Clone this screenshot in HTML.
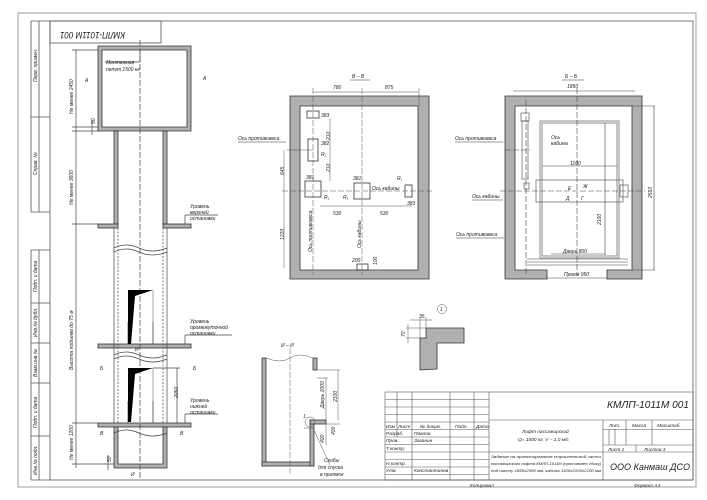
<!DOCTYPE html>
<html><head><meta charset="utf-8"><style>
html,body{margin:0;padding:0;background:#fff;}
svg{display:block;font-family:"Liberation Sans","DejaVu Sans",sans-serif;font-style:italic;}
text{fill:#222;}
</style></head><body>
<svg width="707" height="500" viewBox="0 0 707 500" xmlns="http://www.w3.org/2000/svg">
<g fill="none" stroke="#888" stroke-width="0.8">
<rect x="18" y="13" width="678" height="474"/>
</g>
<g fill="none" stroke="#555" stroke-width="0.8">
<rect x="50" y="21" width="643" height="459"/>
<rect x="50" y="21" width="111" height="22"/>
<line x1="31" y1="21" x2="50" y2="21"/><line x1="31" y1="21" x2="31" y2="212"/>
<line x1="39" y1="21" x2="39" y2="212"/><line x1="31" y1="117" x2="50" y2="117"/><line x1="31" y1="212" x2="50" y2="212"/>
<line x1="31" y1="250" x2="31" y2="480"/><line x1="39" y1="250" x2="39" y2="480"/>
<line x1="31" y1="250" x2="50" y2="250"/><line x1="31" y1="303" x2="50" y2="303"/><line x1="31" y1="343" x2="50" y2="343"/><line x1="31" y1="383" x2="50" y2="383"/><line x1="31" y1="436" x2="50" y2="436"/><line x1="31" y1="480" x2="50" y2="480"/>
</g>
<g font-size="5" fill="#333">
<text transform="translate(37,82) rotate(-90)">Перв. примен.</text>
<text transform="translate(37,175) rotate(-90)">Справ. №</text>
<text transform="translate(37,292) rotate(-90)">Подп. и дата</text>
<text transform="translate(37,337) rotate(-90)">Инв.№ дубл.</text>
<text transform="translate(37,377) rotate(-90)">Взам.инв.№</text>
<text transform="translate(37,428) rotate(-90)">Подп. и дата</text>
<text transform="translate(37,475) rotate(-90)">Инв.№ подл.</text>
</g>
<text transform="translate(125,32) rotate(180)" font-size="9" textLength="65" lengthAdjust="spacingAndGlyphs">КМЛП-1011М 001</text>

<!-- LEFT SHAFT -->
<g fill="#b0b0b0" stroke="#333" stroke-width="0.8">
<path d="M98,46 H191 V131 H98 Z M102,50 V127 H187 V50 Z" fill-rule="evenodd"/>
<rect x="114" y="131" width="4" height="93"/><rect x="163" y="131" width="4" height="93"/>
<rect x="98" y="224" width="20" height="4"/><rect x="163" y="224" width="28" height="4"/>
<rect x="98" y="344" width="93" height="4"/>
<rect x="98" y="423" width="93" height="4"/>
<path d="M114,427 V468 H167 V427 H163 V464 H118 V427 Z"/>
</g>
<g stroke="#444" stroke-width="0.7" fill="none">
<line x1="114" y1="228" x2="114" y2="423"/><line x1="167" y1="228" x2="167" y2="423"/>
<line x1="118" y1="228" x2="118" y2="423" stroke-dasharray="2,1.5"/><line x1="163" y1="228" x2="163" y2="423" stroke-dasharray="2,1.5"/>
<path d="M114,248 q12,-6 25,0 t28,0"/><path d="M114,252 q12,-6 25,0 t28,0"/>
<path d="M114,355 q12,-6 25,0 t28,0"/><path d="M114,359 q12,-6 25,0 t28,0"/>
<path d="M114,433 q12,-6 25,0 t28,0"/>
<line x1="140" y1="40" x2="140" y2="480" stroke-dasharray="6,2"/>
<line x1="76" y1="50" x2="76" y2="468"/>
<line x1="72" y1="50" x2="98" y2="50"/><line x1="72" y1="127" x2="98" y2="127"/><line x1="72" y1="131" x2="98" y2="131"/>
<line x1="72" y1="224" x2="98" y2="224"/><line x1="72" y1="423" x2="98" y2="423"/><line x1="72" y1="464" x2="114" y2="464"/>
<line x1="92" y1="120" x2="92" y2="135"/><line x1="108" y1="455" x2="108" y2="470"/>
<line x1="177" y1="368" x2="177" y2="423"/><line x1="153" y1="368" x2="180" y2="368"/>
<line x1="185" y1="215" x2="218" y2="215"/><line x1="185" y1="215" x2="185" y2="224"/>
<line x1="185" y1="335" x2="232" y2="335"/><line x1="185" y1="335" x2="185" y2="344"/>
<line x1="185" y1="414" x2="218" y2="414"/><line x1="185" y1="414" x2="185" y2="423"/>
<line x1="105" y1="62" x2="140" y2="62"/><line x1="140" y1="50" x2="140" y2="62"/>
<line x1="128" y1="322" x2="128" y2="344"/><line x1="153" y1="322" x2="153" y2="344"/>
<line x1="128" y1="401" x2="128" y2="423"/><line x1="153" y1="401" x2="153" y2="423"/>
</g>
<g fill="#000"><path d="M128,290 h25 l-18,6 l-4,48 h-3z"/><path d="M128,368 h25 l-18,6 l-4,48 h-3z"/></g>
<g stroke="#555" stroke-width="0.5" fill="none"><line x1="153" y1="290" x2="153" y2="344"/><line x1="153" y1="368" x2="153" y2="423"/></g>
<g font-size="5">
<text x="106" y="64">Монтажная</text><text x="106" y="71">петля 1500 кг</text>
<text transform="translate(73,114) rotate(-90)">Не менее 2450</text>
<text transform="translate(73,205) rotate(-90)">Не менее 3600</text>
<text transform="translate(73,370) rotate(-90)">Высота подъема до 75 м</text>
<text transform="translate(73,460) rotate(-90)">Не менее 1200</text>
<text transform="translate(95,124) rotate(-90)">50</text><text transform="translate(111,462) rotate(-90)">50</text>
<text transform="translate(178,398) rotate(-90)">2050</text>
<text x="190" y="208">Уровень</text><text x="190" y="214">верхней</text><text x="190" y="220">остановки</text>
<text x="190" y="323">Уровень</text><text x="190" y="329">промежуточной</text><text x="190" y="335">остановки</text>
<text x="190" y="402">Уровень</text><text x="190" y="408">нижней</text><text x="190" y="414">остановки</text>
<text x="85" y="82">А</text><text x="203" y="80">А</text><text x="100" y="370">Б</text><text x="193" y="370">Б</text>
<text x="100" y="435">В</text><text x="180" y="435">В</text><text x="131" y="476">И</text><text x="135" y="351">И</text>
</g>

<!-- PLAN В-В -->
<path d="M290,96 H429 V279 H290 Z M300,106 V270 H418 V106 Z" fill="#b0b0b0" fill-rule="evenodd" stroke="#333" stroke-width="0.8"/>
<g stroke="#333" stroke-width="0.8" fill="none">
<rect x="307" y="111" width="12" height="7"/><rect x="308" y="139" width="10" height="22"/>
<rect x="305" y="181" width="16" height="16"/><rect x="354" y="183" width="16" height="16"/>
<rect x="405" y="185" width="7" height="12"/><rect x="357" y="264" width="11" height="6"/>
</g>
<g stroke="#555" stroke-width="0.5" fill="none">
<line x1="313" y1="88" x2="313" y2="275" stroke-dasharray="6,2"/><line x1="362" y1="88" x2="362" y2="275" stroke-dasharray="6,2"/>
<line x1="282" y1="191" x2="432" y2="191" stroke-dasharray="6,2"/>
<line x1="313" y1="92" x2="419" y2="92"/><line x1="419" y1="88" x2="419" y2="106"/>
<line x1="287" y1="150" x2="313" y2="150"/><line x1="284" y1="150" x2="284" y2="268"/>
<line x1="320" y1="206" x2="412" y2="206"/><line x1="330" y1="118" x2="330" y2="181"/>
</g>
<g font-size="5">
<text x="352" y="78">В – В</text><line x1="350" y1="80" x2="370" y2="80" stroke="#333" stroke-width="0.6"/>
<text x="333" y="89">780</text><text x="385" y="89">875</text>
<text x="321" y="117">383</text><text x="321" y="145">382</text><text x="321" y="156">R₁</text>
<text x="306" y="179">381</text><text x="353" y="180">381</text><text x="372" y="190">Ось кабины</text><text x="397" y="180">R₁</text><text x="407" y="205">383</text>
<text x="324" y="199">R₁</text><text x="343" y="199">R₁</text>
<text x="333" y="215">530</text><text x="380" y="215">530</text>
<text x="238" y="140">Ось противовеса</text><line x1="238" y1="142" x2="286" y2="142" stroke="#333" stroke-width="0.5"/>
<text transform="translate(284,175) rotate(-90)">645</text><text transform="translate(284,240) rotate(-90)">1220</text>
<text transform="translate(330,140) rotate(-90)">210</text><text transform="translate(330,172) rotate(-90)">210</text>
<text transform="translate(312,252) rotate(-90)">Ось противовеса</text><text transform="translate(361,248) rotate(-90)">Ось кабины</text>
<text x="352" y="262">200</text><text transform="translate(377,265) rotate(-90)">100</text>
</g>

<!-- PLAN Б-Б -->
<path d="M505,96 H642 V279 H607 V270 H632 V106 H515 V270 H547 V279 H505 Z" fill="#b0b0b0" stroke="#333" stroke-width="0.8"/>
<g stroke="#444" stroke-width="0.6" fill="none">
<rect x="540" y="121" width="79" height="137"/><rect x="542" y="123" width="75" height="133"/>
<rect x="536" y="180" width="87" height="22"/>
<rect x="521" y="113" width="8" height="8"/><rect x="522" y="121" width="6" height="58"/><rect x="524" y="183" width="5" height="6"/>
<rect x="620" y="185" width="8" height="12"/>
<line x1="527" y1="259" x2="628" y2="259"/><line x1="527" y1="262" x2="628" y2="262"/><line x1="527" y1="265" x2="628" y2="265"/>
<line x1="513" y1="91" x2="635" y2="91"/>
<line x1="632" y1="106" x2="655" y2="106"/><line x1="632" y1="270" x2="655" y2="270"/><line x1="654" y1="106" x2="654" y2="270"/>
<line x1="542" y1="166" x2="617" y2="166"/><line x1="605" y1="123" x2="605" y2="255"/>
<line x1="551" y1="254" x2="605" y2="254"/><line x1="547" y1="278" x2="607" y2="278"/>
<line x1="577" y1="88" x2="577" y2="275" stroke-dasharray="6,2"/><line x1="526" y1="100" x2="526" y2="275" stroke-dasharray="6,2"/>
<line x1="500" y1="191" x2="645" y2="191" stroke-dasharray="6,2"/><line x1="505" y1="150" x2="530" y2="150" stroke-dasharray="6,2"/>
</g>
<g font-size="5">
<text x="565" y="78">Б – Б</text><line x1="562" y1="80" x2="584" y2="80" stroke="#333" stroke-width="0.6"/>
<text x="567" y="88">1850</text>
<text x="551" y="139">Ось</text><text x="551" y="145">кабины</text>
<text x="570" y="165">1100</text>
<text x="568" y="190">Е</text><text x="583" y="188">Ж</text><text x="566" y="200">Д</text><text x="581" y="200">Г</text>
<text transform="translate(601,225) rotate(-90)">2100</text><text transform="translate(652,198) rotate(-90)">2550</text>
<text x="563" y="253">Дверь 800</text><text x="564" y="276">Проем 950</text>
<text x="455" y="140">Ось противовеса</text><line x1="455" y1="142" x2="503" y2="142" stroke="#333" stroke-width="0.5"/>
<text x="472" y="198">Ось кабины</text><line x1="472" y1="200" x2="503" y2="200" stroke="#333" stroke-width="0.5"/>
<text x="456" y="236">Ось противовеса</text><line x1="456" y1="238" x2="504" y2="238" stroke="#333" stroke-width="0.5"/>
</g>

<!-- DETAIL 1 -->
<path d="M426,328 H464 V343 H437 V369 L420,370 V338 H426 Z" fill="#b0b0b0" stroke="#333" stroke-width="0.8"/>
<g stroke="#555" stroke-width="0.5" fill="none">
<circle cx="442" cy="309" r="4.5"/>
<line x1="410" y1="320" x2="432" y2="320"/><line x1="420" y1="317" x2="420" y2="338"/><line x1="426" y1="317" x2="426" y2="328"/>
<line x1="406" y1="328" x2="426" y2="328"/><line x1="406" y1="338" x2="420" y2="338"/><line x1="408" y1="324" x2="408" y2="343"/>
</g>
<text x="440" y="311" font-size="5">1</text><text x="419" y="318" font-size="5">35</text>
<text transform="translate(405,337) rotate(-90)" font-size="5">70</text>

<!-- SECTION И-И -->
<g fill="#b0b0b0" stroke="#333" stroke-width="0.8">
<rect x="262" y="358" width="4" height="108"/><rect x="262" y="462" width="52" height="4"/>
<rect x="310" y="420" width="4" height="46"/><rect x="310" y="420" width="16" height="4"/>
<rect x="313" y="358" width="4" height="12"/>
</g>
<g stroke="#555" stroke-width="0.5" fill="none">
<path d="M266,358 q15,6 24,0 t23,0"/>
<line x1="290" y1="348" x2="290" y2="475" stroke-dasharray="6,2"/>
<line x1="313" y1="370" x2="340" y2="370"/><line x1="338" y1="370" x2="338" y2="420"/>
<line x1="317" y1="378" x2="328" y2="378"/><line x1="326" y1="378" x2="326" y2="420"/>
<line x1="326" y1="424" x2="340" y2="424"/><line x1="326" y1="420" x2="326" y2="445"/>
<line x1="304" y1="428" x2="314" y2="428"/><line x1="314" y1="430" x2="330" y2="465"/>
<circle cx="310" cy="422" r="5"/>
</g>
<g font-size="5">
<text x="281" y="347">И – И</text>
<text transform="translate(324,408) rotate(-90)">Дверь 2000</text><text transform="translate(337,402) rotate(-90)">2100</text>
<text transform="translate(324,443) rotate(-90)">400</text><text transform="translate(335,435) rotate(-90)">400</text>
<text x="303" y="418">1</text>
<text x="324" y="462">Скобы</text><text x="318" y="469">для спуска</text><text x="320" y="476">в приямок</text>
</g>

<!-- TITLE BLOCK -->
<g stroke="#555" stroke-width="0.6" fill="none">
<rect x="385" y="392" width="308" height="88"/>
<line x1="397" y1="392" x2="397" y2="437"/><line x1="412" y1="392" x2="412" y2="480"/><line x1="450" y1="392" x2="450" y2="480"/><line x1="474" y1="392" x2="474" y2="480"/><line x1="489" y1="392" x2="489" y2="480"/>
<line x1="385" y1="399.5" x2="489" y2="399.5"/><line x1="385" y1="407" x2="489" y2="407"/><line x1="385" y1="414.5" x2="489" y2="414.5"/>
<line x1="385" y1="422" x2="489" y2="422"/><line x1="385" y1="429.5" x2="489" y2="429.5"/><line x1="603" y1="429.5" x2="693" y2="429.5"/><line x1="385" y1="437" x2="489" y2="437"/>
<line x1="385" y1="444.5" x2="489" y2="444.5"/><line x1="385" y1="452" x2="693" y2="452"/><line x1="385" y1="459.5" x2="489" y2="459.5"/>
<line x1="385" y1="467" x2="489" y2="467"/><line x1="385" y1="474.5" x2="489" y2="474.5"/>
<line x1="489" y1="420" x2="693" y2="420"/><line x1="603" y1="420" x2="603" y2="480"/>
<line x1="603" y1="445" x2="693" y2="445"/>
<line x1="626" y1="420" x2="626" y2="445"/><line x1="652" y1="420" x2="652" y2="445"/>
<line x1="609" y1="429.5" x2="609" y2="445"/><line x1="615" y1="429.5" x2="615" y2="445"/><line x1="636" y1="445" x2="636" y2="452"/>
</g>
<g font-size="4.8">
<text x="386" y="428">Изм</text><text x="398" y="428">Лист</text><text x="420" y="428">№ докум.</text><text x="455" y="428">Подп.</text><text x="476" y="428">Дата</text>
<text x="386" y="435">Разраб.</text><text x="414" y="435">Павлов</text>
<text x="386" y="442">Пров.</text><text x="414" y="442">Зазанин</text>
<text x="386" y="450">Т.контр.</text>
<text x="386" y="465">Н.контр.</text>
<text x="386" y="472">Утв.</text><text x="414" y="472">Константинов</text>
<text x="522" y="433">Лифт пассажирский</text><text x="518" y="441">Q= 1000 кг, V – 1,0 м/с</text>
<text x="609" y="427">Лит.</text><text x="632" y="427">Масса</text><text x="657" y="427">Масштаб</text>
<text x="608" y="451">Лист 1</text><text x="644" y="451">Листов 3</text>
<text x="470" y="487">Копировал</text><text x="634" y="487">Формат А3</text>
</g>
<g font-size="3.8"><text x="491" y="458" textLength="110" lengthAdjust="spacingAndGlyphs">Задание на проектирование строительной части</text><text x="491" y="465" textLength="110" lengthAdjust="spacingAndGlyphs">пассажирского лифта КМЛП-1011М (противовес сбоку)</text><text x="491" y="472" textLength="110" lengthAdjust="spacingAndGlyphs">под шахту 1850х2550 мм, кабина 1100х2100х2100 мм</text></g>
<text x="607" y="408" font-size="10" textLength="82" lengthAdjust="spacingAndGlyphs">КМЛП-1011М 001</text>
<text x="610" y="470" font-size="9.5" textLength="80" lengthAdjust="spacingAndGlyphs">ООО Канмаш ДСО</text>
</svg>
</body></html>
